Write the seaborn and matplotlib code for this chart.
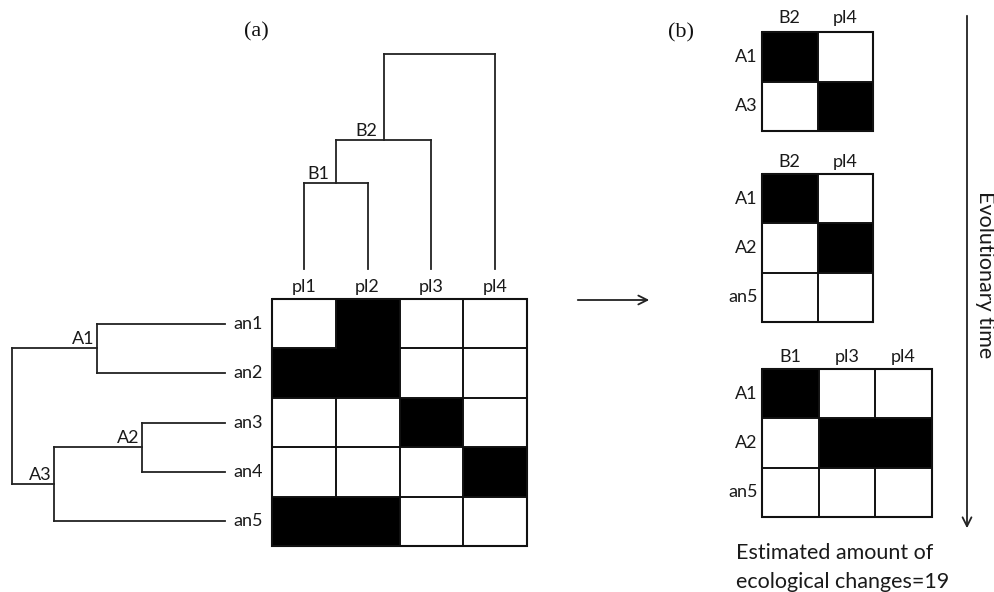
import numpy as np
import pandas as pd
import matplotlib
matplotlib.use("Agg")
import matplotlib.pyplot as plt
from matplotlib.colors import ListedColormap
from matplotlib.collections import LineCollection
import seaborn as sns

# ---------------- data ----------------
animal_leaves = ["an1", "an2", "an3", "an4", "an5"]
plant_leaves = ["pl1", "pl2", "pl3", "pl4"]
main_matrix = [[0, 1, 0, 0],
               [1, 1, 0, 0],
               [0, 0, 1, 0],
               [0, 0, 0, 1],
               [1, 1, 0, 0]]

# dendrogram merges: (node name, child1, child2, merge height)
animal_merges = [("A1", "an1", "an2", 128),
                 ("A2", "an3", "an4", 83),
                 ("A3", "A2", "an5", 171),
                 ("root", "A1", "A3", 213)]
plant_merges = [("B1", "pl1", "pl2", 86),
                ("B2", "B1", "pl3", 129),
                ("root", "B2", "pl4", 215)]

m1_rows = ["A1", "A3"]
m1_cols = ["B2", "pl4"]
m1_vals = [[1, 0], [0, 1]]

m2_rows = ["A1", "A2", "an5"]
m2_cols = ["B2", "pl4"]
m2_vals = [[1, 0], [0, 1], [0, 0]]

m3_rows = ["A1", "A2", "an5"]
m3_cols = ["B1", "pl3", "pl4"]
m3_vals = [[1, 0, 0], [0, 1, 1], [0, 0, 0]]

# ---------------- style ----------------
sns.set_style("white")
plt.rcParams["font.family"] = ["Lato", "DejaVu Sans"]
LINE = "#222222"
GRID = "#111111"
LW = 1.3
FS = 13

W, H = 995, 592
fig = plt.figure(figsize=(W / 100, H / 100), dpi=100)


def px_axes(x0, y0, x1, y1):
    return fig.add_axes([x0 / W, 1 - y1 / H, (x1 - x0) / W, (y1 - y0) / H])


def draw_matrix(ax, vals, rows, cols, lpad, tpad):
    df = pd.DataFrame(vals, index=rows, columns=cols)
    sns.heatmap(df, ax=ax, cmap=ListedColormap(["white", "black"]), vmin=0, vmax=1,
                cbar=False, linewidths=0)
    ax.collections[0].set_antialiased(False)
    ax.xaxis.tick_top()
    ax.set_xlabel("")
    ax.set_ylabel("")
    ax.set_yticklabels(rows, rotation=0, fontsize=FS, color="#1a1a1a")
    ax.set_xticklabels(cols, rotation=0, fontsize=FS, color="#1a1a1a")
    ax.tick_params(axis="y", length=0, pad=lpad)
    ax.tick_params(axis="x", length=0, pad=tpad)
    v = np.asarray(vals)
    n_r, n_c = v.shape
    segs = []
    # internal grid lines, omitted between two filled cells
    for i in range(n_r):
        for j in range(1, n_c):
            if not (v[i, j - 1] and v[i, j]):
                segs.append([(j, i), (j, i + 1)])
    for i in range(1, n_r):
        for j in range(n_c):
            if not (v[i - 1, j] and v[i, j]):
                segs.append([(j, i), (j + 1, i)])
    ax.add_collection(LineCollection(segs, colors=GRID, linewidths=1.4,
                                     capstyle="projecting", clip_on=False))
    ax.plot([0, n_c, n_c, 0, 0], [0, 0, n_r, n_r, 0], color=GRID, lw=1.5,
            clip_on=False, solid_joinstyle="miter")


def dendro_segments(leaves, merges):
    pos = {name: i + 0.5 for i, name in enumerate(leaves)}
    hgt = {name: 0.0 for name in leaves}
    segs = []
    labels = []
    for name, c1, c2, h in merges:
        p1, p2 = pos[c1], pos[c2]
        segs.append(((p1, hgt[c1]), (p1, h)))
        segs.append(((p2, hgt[c2]), (p2, h)))
        segs.append(((p1, h), (p2, h)))
        pos[name] = (p1 + p2) / 2
        hgt[name] = h
        if name != "root":
            labels.append((name, pos[name], h))
    return segs, labels


# ---------------- panel (a) ----------------
ax_main = px_axes(272, 299, 527, 546)
draw_matrix(ax_main, main_matrix, animal_leaves, plant_leaves, lpad=6.5, tpad=3)

# top (plant) dendrogram
ax_top = px_axes(272, 54, 527, 269)
segs, labels = dendro_segments(plant_leaves, plant_merges)
for (xa, ya), (xb, yb) in segs:
    ax_top.plot([xa, xb], [ya, yb], color=LINE, lw=LW, clip_on=False,
                solid_capstyle="projecting")
for name, p, h in labels:
    ax_top.annotate(name, (p, h), xytext=(-4.5, 3), textcoords="offset points",
                    ha="right", va="baseline", fontsize=FS, color="#1a1a1a")
ax_top.set_xlim(0, len(plant_leaves))
ax_top.set_ylim(0, max(m[3] for m in plant_merges))
ax_top.axis("off")

# left (animal) dendrogram
ax_left = px_axes(12, 299, 225, 546)
segs, labels = dendro_segments(animal_leaves, animal_merges)
for (pa, ha), (pb, hb) in segs:
    ax_left.plot([ha, hb], [pa, pb], color=LINE, lw=LW, clip_on=False,
                 solid_capstyle="projecting")
for name, p, h in labels:
    ax_left.annotate(name, (h, p), xytext=(-2, 3), textcoords="offset points",
                     ha="right", va="baseline", fontsize=FS, color="#1a1a1a")
ax_left.set_xlim(max(m[3] for m in animal_merges), 0)
ax_left.set_ylim(len(animal_leaves), 0)
ax_left.axis("off")

# ---------------- panel (b) ----------------
ax_m1 = px_axes(762, 32, 873, 131)
draw_matrix(ax_m1, m1_vals, m1_rows, m1_cols, lpad=3, tpad=4)
ax_m2 = px_axes(762, 174, 873, 322)
draw_matrix(ax_m2, m2_vals, m2_rows, m2_cols, lpad=3, tpad=3)
ax_m3 = px_axes(762, 369, 932, 517)
draw_matrix(ax_m3, m3_vals, m3_rows, m3_cols, lpad=3, tpad=3)

# ---------------- annotations ----------------
bg = fig.add_axes([0, 0, 1, 1], zorder=-1)
bg.set_xlim(0, W)
bg.set_ylim(H, 0)
bg.axis("off")

bg.text(256, 32, "(a)", family=["Liberation Serif"], fontsize=16, ha="center",
        va="center", color="#111")
bg.text(681, 33, "(b)", family=["Liberation Serif"], fontsize=16, ha="center",
        va="center", color="#111")

bg.annotate("", xy=(652, 300), xytext=(575, 300),
            arrowprops=dict(arrowstyle="->", lw=1.3, color=LINE, mutation_scale=16))
bg.annotate("", xy=(967, 531), xytext=(967, 13),
            arrowprops=dict(arrowstyle="->", lw=1.3, color=LINE, mutation_scale=16))

bg.text(985, 275, "Evolutionary time", rotation=-90, fontsize=15.5, ha="center",
        va="center", color="#1a1a1a")
bg.text(736, 553, "Estimated amount of", fontsize=15.5, ha="left", va="center",
        color="#1a1a1a")
bg.text(736, 582, "ecological changes=19", fontsize=15.5, ha="left", va="center",
        color="#1a1a1a")

fig.savefig("out.png", dpi=100)
